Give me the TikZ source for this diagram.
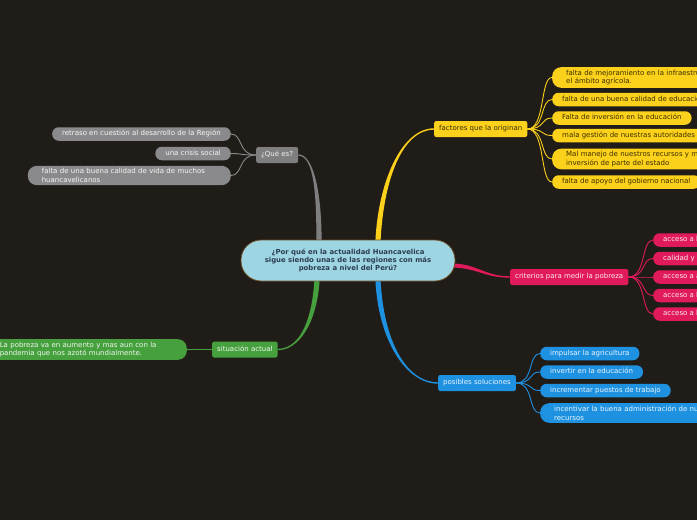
\documentclass[tikz,border=0pt]{standalone}
\usepackage{fontspec}
\setmainfont{DejaVu Sans}
\usetikzlibrary{calc}
\pgfdeclarelayer{back}
\pgfdeclarelayer{conn}
\pgfsetlayers{back,conn,main}
\definecolor{bgc}{HTML}{201C18}
\definecolor{cblue}{HTML}{9ED5E2}
\definecolor{cbrown}{HTML}{6E4E26}
\definecolor{ctext}{HTML}{2C3E50}
\definecolor{gry}{HTML}{7F7F80}
\definecolor{gry2}{HTML}{8A8A8C}
\definecolor{ylw}{HTML}{FCD11B}
\definecolor{ytx}{HTML}{3A2E00}
\definecolor{crm}{HTML}{E01A5B}
\definecolor{blu}{HTML}{1E91E1}
\definecolor{grn}{HTML}{46A03D}
\tikzset{
  fs/.style={font=\fontsize{7pt}{8.7pt}\selectfont},
  central/.style={fill=cblue, draw=cbrown, line width=0.8pt, rounded corners=20pt,
    minimum width=214pt, minimum height=41pt, align=center, text=ctext,
    font=\bfseries\fontsize{6.9pt}{8.2pt}\selectfont},
  mainbr/.style={fs, rounded corners=2pt, inner xsep=5pt, inner ysep=0pt,
    minimum height=16pt, text height=5.4pt, text depth=1.6pt},
  leaf/.style={fs, rounded corners=6.5pt, inner xsep=10pt, inner ysep=0pt,
    minimum height=13.5pt, text height=5.4pt, text depth=1.6pt},
  leaftwo/.style={fs, rounded corners=9pt, inner xsep=14pt, inner ysep=2.6pt,
    align=left, text width=175pt},
  gcol/.style={fill=gry2, text=white!92!gray},
  ycol/.style={fill=ylw, text=ytx},
  pcol/.style={fill=crm, text=white!92!crm},
  bcol/.style={fill=blu, text=white!92!blu},
  ncol/.style={fill=grn, text=white!92!grn},
  lk/.style={line width=0.9pt},
}
\begin{document}
\begin{tikzpicture}[x=1pt,y=-1pt]
\useasboundingbox (0,0) rectangle (697,520);
\begin{pgfonlayer}{back}
\fill[bgc] (0,0) rectangle (697,520);
\end{pgfonlayer}

% central
\node[central] (C) at (348,260.5) {¿Por qué en la actualidad Huancavelica\\sigue siendo unas de las regiones con más\\pobreza a nivel del Perú?};

% gray branch
\node[mainbr, fill=gry, text=white!92!gray, anchor=west] (Q) at (256,155) {¿Qué es?};
\node[leaf, gcol, anchor=east] (Q1) at (231,134) {retraso en cuestión al desarrollo de la Región};
\node[leaf, gcol, anchor=east] (Q2) at (231,153.5) {una crisis social};
\node[leaftwo, gcol, anchor=east] (Q3) at (231,175.5) {falta de una buena calidad de vida de muchos\\huancavelicanos};

% yellow branch
\node[mainbr, ycol, anchor=west] (F) at (434,129) {factores que la originan};
\node[leaftwo, ycol, anchor=west] (Y1) at (552,77.5) {falta de mejoramiento en la infraestructura en\\el ámbito agrícola.};
\node[leaf, ycol, anchor=west] (Y2) at (552,99.5) {falta de una buena calidad de educación};
\node[leaf, ycol, anchor=west] (Y3) at (552,118) {Falta de inversión en la educación};
\node[leaf, ycol, anchor=west] (Y4) at (552,135.5) {mala gestión de nuestras autoridades};
\node[leaftwo, ycol, anchor=west] (Y5) at (552,159) {Mal manejo de nuestros recursos y mala\\inversión de parte del estado};
\node[leaf, ycol, anchor=west] (Y6) at (552,182) {falta de apoyo del gobierno nacional};

% crimson branch
\node[mainbr, pcol, anchor=west] (P) at (510,277) {criterios para medir la pobreza};
\node[leaf, pcol, anchor=west] (P1) at (653,240) {acceso a la educación};
\node[leaf, pcol, anchor=west] (P2) at (653,258.5) {calidad y espacios de la vivienda};
\node[leaf, pcol, anchor=west] (P3) at (653,277) {acceso a alimentación};
\node[leaf, pcol, anchor=west] (P4) at (653,295.5) {acceso a la salud};
\node[leaf, pcol, anchor=west] (P5) at (653,314) {acceso a la seguridad social};

% blue branch
\node[mainbr, bcol, anchor=west] (S) at (438,383) {posibles soluciones};
\node[leaf, bcol, anchor=west] (S1) at (540,353.5) {impulsar la agricultura};
\node[leaf, bcol, anchor=west] (S2) at (540,372) {invertir en la educación};
\node[leaf, bcol, anchor=west] (S3) at (540,390.5) {incrementar puestos de trabajo};
\node[leaftwo, bcol, anchor=west] (S4) at (540,413) {incentivar la buena administración de nuestros\\recursos};

% green branch
\node[mainbr, ncol, anchor=west] (G) at (212,349.5) {situación actual};
\node[leaftwo, ncol, inner xsep=12pt, anchor=east] (G1) at (187,349.5) {La pobreza va en aumento y mas aun con la\\pandemia que nos azotó mundialmente.};

\begin{pgfonlayer}{conn}
% main tapered connectors
\coordinate (g0) at ($(C.north)+(-29,1)$);
\coordinate (y0) at ($(C.north)+(30,1)$);
\coordinate (n0) at ($(C.south)+(-31,-1)$);
\coordinate (b0) at ($(C.south)+(30,-1)$);
\coordinate (p0) at ($(C.east)+(-2,5)$);
\fill[gry] ($(g0)+(-2.6,0)$) .. controls +(0,-45) and +(16,0) .. ($(Q.east)+(0,0.7)$)
  -- ($(Q.east)+(0,-0.7)$) .. controls +(16,0) and +(0,-45) .. ($(g0)+(2.6,0)$) -- cycle;
\fill[ylw] ($(y0)+(-2.6,0)$) .. controls +(3,-60) and +(-32,0) .. ($(F.west)+(0,-0.7)$)
  -- ($(F.west)+(0,0.7)$) .. controls +(-32,0) and +(3,-60) .. ($(y0)+(2.6,0)$) -- cycle;
\fill[blu] ($(b0)+(2.6,0)$) .. controls +(3,60) and +(-32,0) .. ($(S.west)+(0,-0.7)$)
  -- ($(S.west)+(0,0.7)$) .. controls +(-32,0) and +(3,60) .. ($(b0)+(-2.6,0)$) -- cycle;
\fill[grn] ($(n0)+(2.6,0)$) .. controls +(-3,45) and +(20,0) .. ($(G.east)+(0,0.7)$)
  -- ($(G.east)+(0,-0.7)$) .. controls +(20,0) and +(-3,45) .. ($(n0)+(-2.6,0)$) -- cycle;
\fill[crm] ($(p0)+(0,-2)$) .. controls +(25,1) and +(-25,0) .. ($(P.west)+(0,-0.7)$)
  -- ($(P.west)+(0,0.7)$) .. controls +(-25,0) and +(25,1) .. ($(p0)+(0,2)$) -- cycle;

% leaf connectors
\foreach \t in {Q1,Q2,Q3}
  \draw[lk, gry2] (Q.west) .. controls +(-18,0) and +(12,0) .. (\t.east);
\foreach \t in {Y1,Y2,Y3,Y4,Y5,Y6}
  \draw[lk, ylw] (F.east) .. controls +(18,0) and +(-12,0) .. (\t.west);
\foreach \t in {P1,P2,P3,P4,P5}
  \draw[lk, crm] (P.east) .. controls +(18,0) and +(-12,0) .. (\t.west);
\foreach \t in {S1,S2,S3,S4}
  \draw[lk, blu] (S.east) .. controls +(18,0) and +(-12,0) .. (\t.west);
\draw[lk, grn] (G.west) -- (G1.east);
\end{pgfonlayer}
\end{tikzpicture}
\end{document}
